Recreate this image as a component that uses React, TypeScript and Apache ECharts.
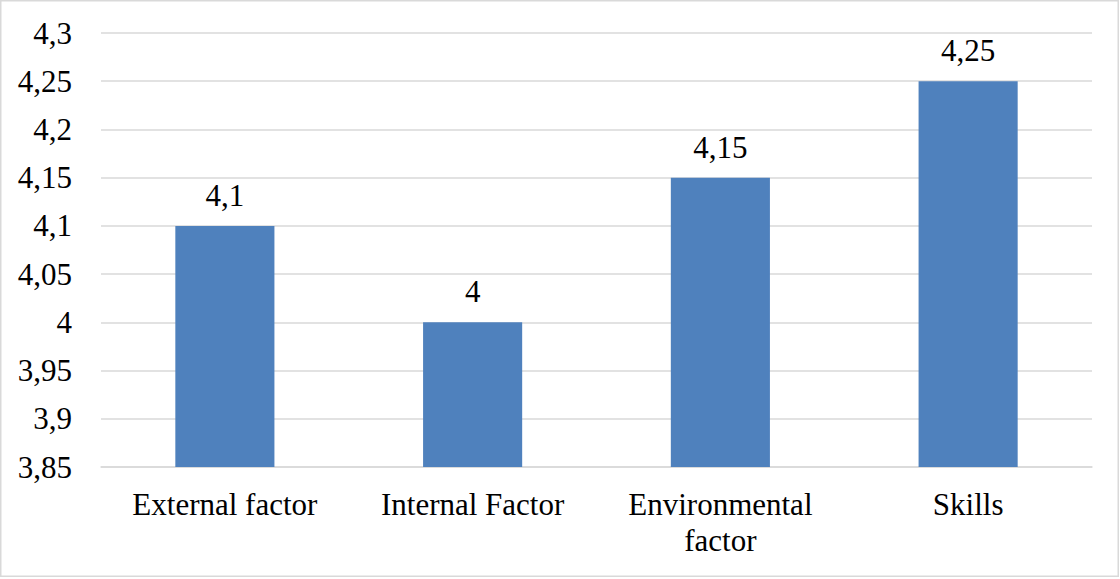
import React, { useEffect, useRef } from "react";
import * as echarts from "echarts";

const categories = ["External factor", "Internal Factor", "Environmental\nfactor", "Skills"];
const scores = [4.1, 4.0, 4.15, 4.25];
const axisMin = 3.85;
const axisMax = 4.3;
const axisStep = 0.05;

const FONT = "Liberation Serif";

const fmt = (v: number) => {
  const s = parseFloat(v.toFixed(2)).toString();
  return s.replace(".", ",");
};

export default function App() {
  const ref = useRef<HTMLDivElement>(null);

  useEffect(() => {
    if (!ref.current) return;
    const chart = echarts.init(ref.current, null, { renderer: "svg" });
    chart.setOption({
      animation: false,
      backgroundColor: "#ffffff",
      textStyle: { fontFamily: FONT },
      grid: { left: 101, right: 28, top: 33, bottom: 112, containLabel: false },
      xAxis: {
        type: "category",
        data: categories,
        axisLine: { show: true, lineStyle: { color: "#d9d9d9", width: 1.5 } },
        axisTick: { show: false },
        axisLabel: {
          color: "#000",
          fontFamily: FONT,
          fontSize: 31,
          lineHeight: 36,
          margin: 19,
          interval: 0,
        },
      },
      yAxis: {
        type: "value",
        min: axisMin,
        max: axisMax,
        interval: axisStep,
        axisLine: { show: false },
        axisTick: { show: false },
        splitLine: { lineStyle: { color: "#d9d9d9", width: 1.5 } },
        axisLabel: {
          color: "#000",
          fontFamily: FONT,
          fontSize: 31,
          margin: 29,
          formatter: (v: number) => fmt(v),
        },
      },
      series: [
        {
          type: "bar",
          data: scores,
          barWidth: "40%",
          itemStyle: { color: "#4f81bd" },
          label: {
            show: true,
            position: "top",
            distance: 15,
            color: "#000",
            fontFamily: FONT,
            fontSize: 31,
            formatter: (p: any) => fmt(p.value),
          },
        },
      ],
      graphic: [
        {
          type: "rect",
          shape: { x: 0.75, y: 0.75, width: 1117.5, height: 575.5 },
          style: { fill: "none", stroke: "#d9d9d9", lineWidth: 1.5 },
          silent: true,
        },
      ],
    });
    return () => chart.dispose();
  }, []);

  return (
    <div
      ref={ref}
      style={{ position: "fixed", left: 0, top: 0, width: 1120, height: 579 }}
    />
  );
}
